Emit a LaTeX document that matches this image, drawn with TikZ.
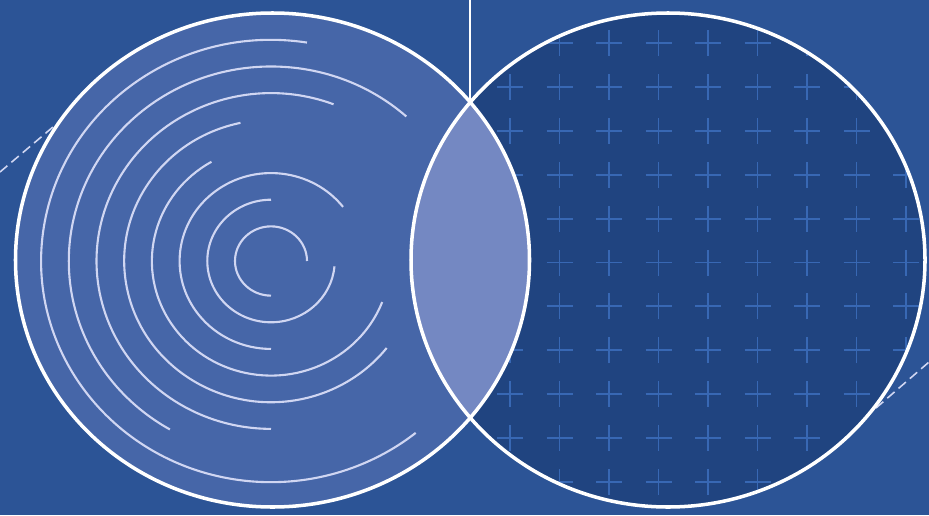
\documentclass[tikz,border=0pt]{standalone}
\definecolor{bgblue}{RGB}{44,84,150}
\definecolor{leftblue}{RGB}{70,102,168}
\definecolor{rightblue}{RGB}{32,68,128}
\definecolor{lensblue}{RGB}{116,136,194}
\definecolor{crossblue}{RGB}{56,104,180}
\definecolor{ringwhite}{RGB}{208,214,242}

\begin{document}
\begin{tikzpicture}[x=0.02cm, y=0.02cm,
    outline/.style={draw=white, line width=2pt},
    ring/.style={draw=ringwhite, line width=1.2pt},
    crossmark/.style={draw=crossblue, line width=1.1pt},
    guide/.style={draw=ringwhite, line width=0.9pt, dash pattern=on 5.5pt off 3pt},
    stem/.style={draw=white, line width=1.1pt}
]

    % Background
    \fill[bgblue] (0,0) rectangle (929,515);
    \useasboundingbox (0,0) rectangle (929,515);

    % Centres
    \coordinate (left) at (272.5,255);
    \coordinate (right) at (668,255);
    \coordinate (core) at (271,254);
    \coordinate (apex) at (470.25,412.8);
    \coordinate (topedge) at (470.25,515);

    % Guides
    \draw[guide] (0,343) -- (60,394);
    \draw[guide] (876,107) -- (929,153);

    % Fills
    \fill[leftblue] (left) ellipse [x radius=257, y radius=247];
    \fill[rightblue] (right) ellipse [x radius=257, y radius=247];

    % Grid of crosses
    \begin{scope}
        \clip (right) ellipse [x radius=257, y radius=247];
        \foreach \i in {0,...,10}
            \foreach \j in {-1,...,8} {
                \draw[crossmark] ({510+49.5*\j-13},{472-43.9*\i}) -- ++(26,0);
                \draw[crossmark] ({510+49.5*\j},{472-43.9*\i-13}) -- ++(0,26);
            }
    \end{scope}

    % Lens
    \begin{scope}
        \clip (left) ellipse [x radius=257, y radius=247];
        \fill[lensblue] (right) ellipse [x radius=257, y radius=247];
    \end{scope}

    % Rings
    \foreach \r/\a/\b in {36/0/270, 63.7/90/355, 91.4/38/270, 119.1/120/339,
                          146.8/102/322, 174.5/69/270, 202.2/48/240, 229.9/81/309}
        \draw[ring] ([shift={({\r*cos(\a)},{0.962*\r*sin(\a)})}]core)
            arc [start angle=\a, end angle=\b, x radius=\r, y radius=0.962*\r];

    % Outlines
    \draw[outline] (left) ellipse [x radius=257, y radius=247];
    \draw[outline] (right) ellipse [x radius=257, y radius=247];
    \draw[stem] (topedge) -- (apex);

\end{tikzpicture}
\end{document}
